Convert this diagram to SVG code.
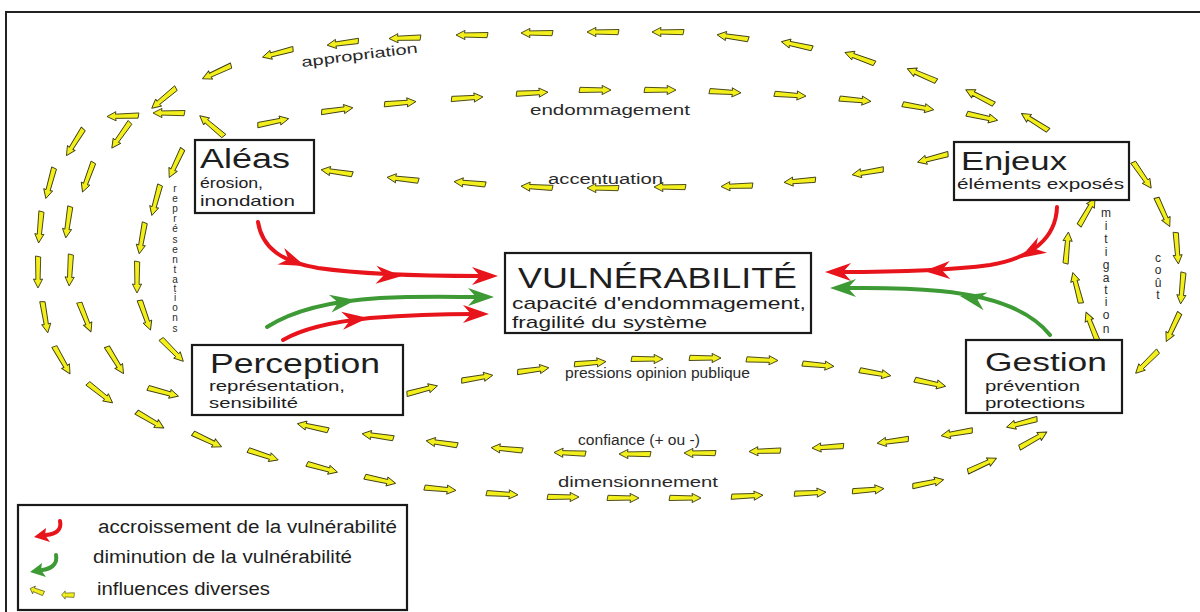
<svg xmlns="http://www.w3.org/2000/svg" xmlns:xlink="http://www.w3.org/1999/xlink" width="1200" height="612" viewBox="0 0 1200 612">
<defs>
<style>
.box{fill:#fff;stroke:#1a1a1a;stroke-width:2.2}
.t{font-family:"Liberation Sans",Arial,sans-serif;fill:#1e1e1e}
.big{font-size:27px}
.sub{font-size:15px}
.lbl{font-size:14px;fill:#2a2a2a}
.vt{font-family:"Liberation Sans",Arial,sans-serif;fill:#2a2a2a;text-anchor:middle}
.red{fill:none;stroke:#e8141b;stroke-width:4;stroke-linecap:round}
.grn{fill:none;stroke:#3d9a35;stroke-width:4;stroke-linecap:round}
.rh{fill:#e8141b}
.gh{fill:#3d9a35}
.ya{fill:#f2ef1c;stroke:#3b3b10;stroke-width:0.9;stroke-linejoin:round}
</style>
<path id="ya" class="ya" d="M16,0 L7,-4.6 L7.5,-2.1 L-15,-2.7 L-16,2.5 L7.5,2.1 L7,4.6 Z"/>
<path id="hd" d="M0,0 L-26,-9 L-18,0 L-26,9 Z"/>
</defs>
<rect width="1200" height="612" fill="#fff"/>
<path d="M1200,12 H6 V612" fill="none" stroke="#222" stroke-width="2"/>

<g id="connectors">
<!-- appropriation (outer top, leftward) -->
<use href="#ya" transform="translate(1035,122) rotate(212)"/>
<use href="#ya" transform="translate(980,97) rotate(207)"/>
<use href="#ya" transform="translate(922,75) rotate(203)"/>
<use href="#ya" transform="translate(860,58) rotate(200)"/>
<use href="#ya" transform="translate(797,45) rotate(192)"/>
<use href="#ya" transform="translate(733,37) rotate(188)"/>
<use href="#ya" transform="translate(668,32) rotate(180)"/>
<use href="#ya" transform="translate(603,32) rotate(180)"/>
<use href="#ya" transform="translate(537,33) rotate(180)"/>
<use href="#ya" transform="translate(472,35) rotate(180)"/>
<use href="#ya" transform="translate(405,38) rotate(178)"/>
<use href="#ya" transform="translate(343,43) rotate(172)"/>
<use href="#ya" transform="translate(278,53) rotate(165)"/>
<use href="#ya" transform="translate(217,72) rotate(155)"/>
<use href="#ya" transform="translate(164,98) rotate(140)"/>
<use href="#ya" transform="translate(123,116) rotate(178)"/>
<use href="#ya" transform="translate(121,135) rotate(125)"/>
<use href="#ya" transform="translate(75,142) rotate(122)"/>
<use href="#ya" transform="translate(169,113) rotate(180)"/>
<use href="#ya" transform="translate(212,126) rotate(220)"/>
<!-- left columns -->
<use href="#ya" transform="translate(50,183) rotate(105)"/>
<use href="#ya" transform="translate(88,177) rotate(110)"/>
<use href="#ya" transform="translate(176,163) rotate(115)"/>
<use href="#ya" transform="translate(156,200) rotate(105)"/>
<use href="#ya" transform="translate(40,227) rotate(95)"/>
<use href="#ya" transform="translate(68,222) rotate(98)"/>
<use href="#ya" transform="translate(142,238) rotate(100)"/>
<use href="#ya" transform="translate(38,272) rotate(90)"/>
<use href="#ya" transform="translate(70,270) rotate(93)"/>
<use href="#ya" transform="translate(137,277) rotate(90)"/>
<use href="#ya" transform="translate(45,317) rotate(80)"/>
<use href="#ya" transform="translate(85,317) rotate(68)"/>
<use href="#ya" transform="translate(145,315) rotate(70)"/>
<use href="#ya" transform="translate(62,360) rotate(60)"/>
<use href="#ya" transform="translate(115,360) rotate(58)"/>
<use href="#ya" transform="translate(172,350) rotate(45)"/>
<use href="#ya" transform="translate(100,393) rotate(38)"/>
<use href="#ya" transform="translate(163,392) rotate(15)"/>
<use href="#ya" transform="translate(150,420) rotate(30)"/>
<!-- dimensionnement (bottom, rightward) -->
<use href="#ya" transform="translate(207,440) rotate(25)"/>
<use href="#ya" transform="translate(263,455) rotate(18)"/>
<use href="#ya" transform="translate(322,468) rotate(15)"/>
<use href="#ya" transform="translate(380,480) rotate(12)"/>
<use href="#ya" transform="translate(440,489) rotate(5)"/>
<use href="#ya" transform="translate(502,494) rotate(3)"/>
<use href="#ya" transform="translate(563,497) rotate(0)"/>
<use href="#ya" transform="translate(623,498) rotate(0)"/>
<use href="#ya" transform="translate(685,498) rotate(0)"/>
<use href="#ya" transform="translate(747,496) rotate(-3)"/>
<use href="#ya" transform="translate(810,493) rotate(-3)"/>
<use href="#ya" transform="translate(868,490) rotate(-5)"/>
<use href="#ya" transform="translate(928,483) rotate(-12)"/>
<use href="#ya" transform="translate(982,465) rotate(-25)"/>
<use href="#ya" transform="translate(1033,440) rotate(-30)"/>
<!-- confiance (leftward) -->
<use href="#ya" transform="translate(1022,423) rotate(165)"/>
<use href="#ya" transform="translate(957,433) rotate(170)"/>
<use href="#ya" transform="translate(893,441) rotate(172)"/>
<use href="#ya" transform="translate(828,447) rotate(176)"/>
<use href="#ya" transform="translate(765,451) rotate(178)"/>
<use href="#ya" transform="translate(700,453) rotate(180)"/>
<use href="#ya" transform="translate(635,454) rotate(180)"/>
<use href="#ya" transform="translate(570,453) rotate(182)"/>
<use href="#ya" transform="translate(507,449) rotate(185)"/>
<use href="#ya" transform="translate(442,443) rotate(188)"/>
<use href="#ya" transform="translate(378,436) rotate(188)"/>
<use href="#ya" transform="translate(313,427) rotate(192)"/>
<!-- pressions opinion publique (rightward) -->
<use href="#ya" transform="translate(422,390) rotate(-15)"/>
<use href="#ya" transform="translate(477,378) rotate(-10)"/>
<use href="#ya" transform="translate(533,370) rotate(-8)"/>
<use href="#ya" transform="translate(590,363) rotate(-5)"/>
<use href="#ya" transform="translate(647,359) rotate(0)"/>
<use href="#ya" transform="translate(705,358) rotate(0)"/>
<use href="#ya" transform="translate(762,360) rotate(2)"/>
<use href="#ya" transform="translate(818,365) rotate(5)"/>
<use href="#ya" transform="translate(875,373) rotate(10)"/>
<use href="#ya" transform="translate(930,383) rotate(12)"/>
<!-- accentuation (leftward) -->
<use href="#ya" transform="translate(933,158) rotate(165)"/>
<use href="#ya" transform="translate(868,172) rotate(170)"/>
<use href="#ya" transform="translate(800,181) rotate(175)"/>
<use href="#ya" transform="translate(737,186) rotate(178)"/>
<use href="#ya" transform="translate(670,187) rotate(180)"/>
<use href="#ya" transform="translate(603,188) rotate(180)"/>
<use href="#ya" transform="translate(537,187) rotate(183)"/>
<use href="#ya" transform="translate(470,183) rotate(185)"/>
<use href="#ya" transform="translate(403,179) rotate(186)"/>
<use href="#ya" transform="translate(337,172) rotate(188)"/>
<!-- endommagement (rightward) -->
<use href="#ya" transform="translate(273,122) rotate(-12)"/>
<use href="#ya" transform="translate(337,110) rotate(-8)"/>
<use href="#ya" transform="translate(400,103) rotate(-5)"/>
<use href="#ya" transform="translate(467,98) rotate(-4)"/>
<use href="#ya" transform="translate(532,93) rotate(-3)"/>
<use href="#ya" transform="translate(595,90) rotate(0)"/>
<use href="#ya" transform="translate(660,90) rotate(0)"/>
<use href="#ya" transform="translate(725,92) rotate(3)"/>
<use href="#ya" transform="translate(790,95) rotate(4)"/>
<use href="#ya" transform="translate(855,100) rotate(5)"/>
<use href="#ya" transform="translate(918,107) rotate(10)"/>
<use href="#ya" transform="translate(982,117) rotate(12)"/>
<!-- coût (downward) -->
<use href="#ya" transform="translate(1142,175) rotate(55)"/>
<use href="#ya" transform="translate(1163,212) rotate(65)"/>
<use href="#ya" transform="translate(1177,248) rotate(85)"/>
<use href="#ya" transform="translate(1182,288) rotate(95)"/>
<use href="#ya" transform="translate(1173,327) rotate(115)"/>
<use href="#ya" transform="translate(1147,362) rotate(135)"/>
<!-- mitigation (upward) -->
<use href="#ya" transform="translate(1087,212) rotate(-60)"/>
<use href="#ya" transform="translate(1067,248) rotate(-85)"/>
<use href="#ya" transform="translate(1077,288) rotate(-105)"/>
<use href="#ya" transform="translate(1092,327) rotate(-112)"/>

<!-- red / green influence arrows -->
<path class="red" d="M258,222 C262,248 282,262 318,268 C360,274 420,276 480,276"/>
<use href="#hd" class="rh" transform="translate(305,266) rotate(22)"/>
<use href="#hd" class="rh" transform="translate(402,276) rotate(3)"/>
<use href="#hd" class="rh" transform="translate(498,276)"/>

<path class="grn" d="M267,327 C292,311 330,301 380,298 C420,296 455,297 478,297"/>
<use href="#hd" class="gh" transform="translate(356,300) rotate(-8)"/>
<use href="#hd" class="gh" transform="translate(494,297)"/>

<path class="red" d="M283,340 C300,330 330,322 370,318 C410,315 450,314 474,314"/>
<use href="#hd" class="rh" transform="translate(368,318) rotate(-6)"/>
<use href="#hd" class="rh" transform="translate(489,314)"/>

<path class="red" d="M1057,207 C1056,238 1032,258 990,265 C945,271 885,272 840,272"/>
<use href="#hd" class="rh" transform="translate(1020,258) rotate(150)"/>
<use href="#hd" class="rh" transform="translate(924,271) rotate(178)"/>
<use href="#hd" class="rh" transform="translate(825,272) rotate(180)"/>

<path class="grn" d="M1050,335 C1030,310 992,296 940,291 C900,287 865,288 845,288"/>
<use href="#hd" class="gh" transform="translate(960,296) rotate(192)"/>
<use href="#hd" class="gh" transform="translate(830,288) rotate(180)"/>
</g>

<!-- flow labels -->
<text class="t lbl" x="302" y="67" transform="rotate(-7 302 67)" textLength="117" lengthAdjust="spacingAndGlyphs" font-size="15">appropriation</text>
<text class="t lbl" x="530" y="115" textLength="160" lengthAdjust="spacingAndGlyphs" font-size="15">endommagement</text>
<text class="t lbl" x="548" y="184" textLength="115" lengthAdjust="spacingAndGlyphs" font-size="15">accentuation</text>
<text class="t lbl" x="565" y="378" textLength="185" lengthAdjust="spacingAndGlyphs" font-size="13">pressions opinion publique</text>
<text class="t lbl" x="578" y="445" textLength="122" lengthAdjust="spacingAndGlyphs" font-size="13">confiance (+ ou -)</text>
<text class="t lbl" x="558" y="487" textLength="160" lengthAdjust="spacingAndGlyphs" font-size="15">dimensionnement</text>
<text class="vt" font-size="10"><tspan x="175" y="192">r</tspan><tspan x="175" y="202">e</tspan><tspan x="175" y="212">p</tspan><tspan x="175" y="222">r</tspan><tspan x="175" y="232">é</tspan><tspan x="175" y="243">s</tspan><tspan x="175" y="253">e</tspan><tspan x="175" y="263">n</tspan><tspan x="175" y="273">t</tspan><tspan x="175" y="283">a</tspan><tspan x="175" y="292">t</tspan><tspan x="175" y="301">i</tspan><tspan x="175" y="311">o</tspan><tspan x="175" y="321">n</tspan><tspan x="175" y="332">s</tspan></text>
<text class="vt" font-size="12"><tspan x="1106" y="217">m</tspan><tspan x="1106" y="230">i</tspan><tspan x="1106" y="243">t</tspan><tspan x="1106" y="256">i</tspan><tspan x="1106" y="269">g</tspan><tspan x="1106" y="282">a</tspan><tspan x="1106" y="294">t</tspan><tspan x="1106" y="306">i</tspan><tspan x="1106" y="319">o</tspan><tspan x="1106" y="333">n</tspan></text>
<text class="vt" font-size="12"><tspan x="1158" y="262">c</tspan><tspan x="1158" y="274">o</tspan><tspan x="1158" y="287">û</tspan><tspan x="1158" y="299">t</tspan></text>

<g id="aleas">
<rect class="box" x="195" y="140" width="119" height="73"/>
<text class="t big" x="200" y="168" textLength="90" lengthAdjust="spacingAndGlyphs">Aléas</text>
<text class="t sub" x="200" y="188" textLength="63" lengthAdjust="spacingAndGlyphs">érosion,</text>
<text class="t sub" x="200" y="206" textLength="95" lengthAdjust="spacingAndGlyphs">inondation</text>
</g>
<g id="enjeux">
<rect class="box" x="954" y="142" width="175" height="58"/>
<text class="t" font-size="25" x="961" y="170" textLength="106" lengthAdjust="spacingAndGlyphs">Enjeux</text>
<text class="t sub" x="957" y="189" textLength="167" lengthAdjust="spacingAndGlyphs">éléments exposés</text>
</g>
<g id="vulnerabilite">
<rect class="box" x="505" y="253" width="306" height="80"/>
<text class="t" font-size="29" x="518" y="288" textLength="279" lengthAdjust="spacingAndGlyphs">VULNÉRABILITÉ</text>
<text class="t" font-size="17" x="512" y="309" textLength="294" lengthAdjust="spacingAndGlyphs">capacité d'endommagement,</text>
<text class="t" font-size="17" x="512" y="328" textLength="195" lengthAdjust="spacingAndGlyphs">fragilité du système</text>
</g>
<g id="perception">
<rect class="box" x="192" y="345" width="211" height="70"/>
<text class="t big" x="210" y="373" textLength="170" lengthAdjust="spacingAndGlyphs">Perception</text>
<text class="t sub" x="209" y="391" textLength="136" lengthAdjust="spacingAndGlyphs">représentation,</text>
<text class="t sub" x="209" y="408" textLength="89" lengthAdjust="spacingAndGlyphs">sensibilité</text>
</g>
<g id="gestion">
<rect class="box" x="966" y="340" width="156" height="73"/>
<text class="t" font-size="26" x="985" y="371" textLength="122" lengthAdjust="spacingAndGlyphs">Gestion</text>
<text class="t sub" x="985" y="391" textLength="95" lengthAdjust="spacingAndGlyphs">prévention</text>
<text class="t sub" x="985" y="408" textLength="100" lengthAdjust="spacingAndGlyphs">protections</text>
</g>

<g id="legend">
<rect class="box" x="18" y="505" width="389" height="105"/>
<path d="M60,521 C62,530 56,534 46,535" fill="none" stroke="#e8141b" stroke-width="4" stroke-linecap="round"/>
<path d="M34,537 L46,528 L45,535 L50,542 Z" fill="#e8141b"/>
<text class="t" font-size="18" x="98" y="533" textLength="299" lengthAdjust="spacingAndGlyphs">accroissement de la vulnérabilité</text>
<path d="M56,555 C58,565 50,569 42,570" fill="none" stroke="#3d9a35" stroke-width="4" stroke-linecap="round"/>
<path d="M30,572 L42,563 L41,570 L46,577 Z" fill="#3d9a35"/>
<text class="t" font-size="18" x="93" y="563" textLength="259" lengthAdjust="spacingAndGlyphs">diminution de la vulnérabilité</text>
<use href="#ya" transform="translate(37,591) rotate(200) scale(0.45,0.9)"/>
<use href="#ya" transform="translate(68,595) rotate(180) scale(0.4,0.9)"/>
<text class="t" font-size="18" x="97" y="595" textLength="173" lengthAdjust="spacingAndGlyphs">influences diverses</text>
</g>
</svg>
